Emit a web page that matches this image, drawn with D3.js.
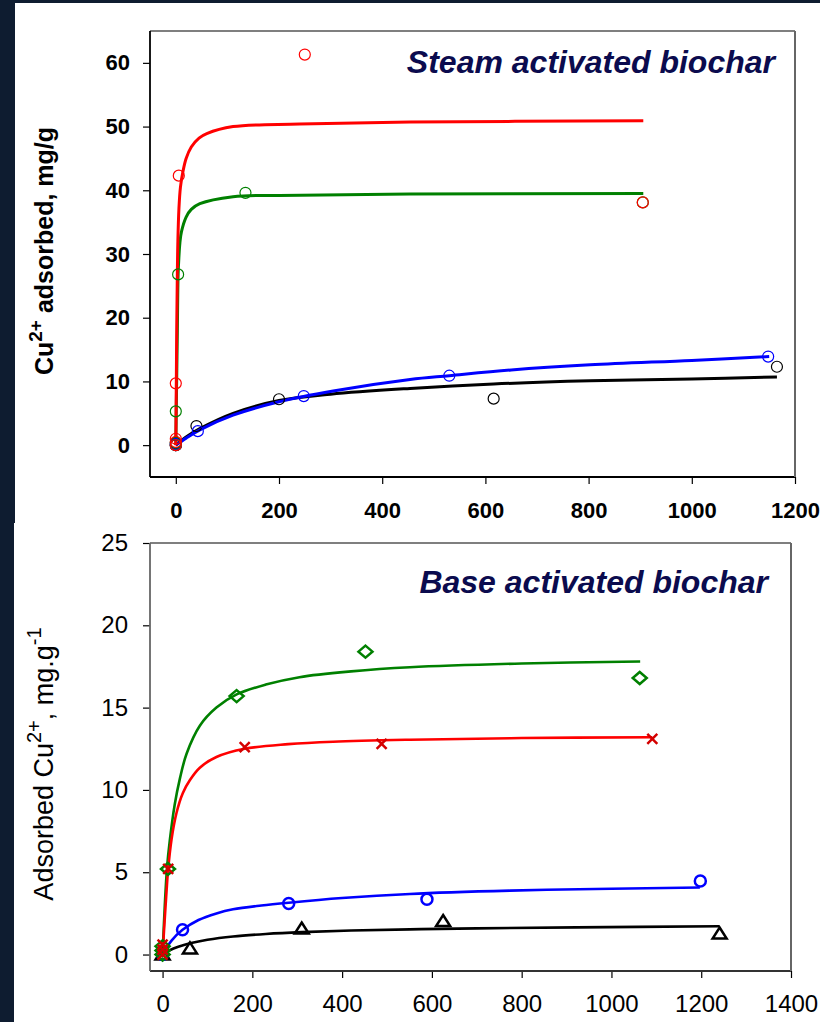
<!DOCTYPE html>
<html>
<head>
<meta charset="utf-8">
<script src="https://cdn.jsdelivr.net/npm/d3@7"></script>
<style>
  body { margin: 0; background: #0e1c30; }
  svg { display: block; }
</style>
</head>
<body>
<div id="chart"></div>
<script>
// ---- top panel: steam activated biochar (time, Cu adsorbed mg/g) ----
var steamXTicks = [0, 200, 400, 600, 800, 1000, 1200];
var steamYTicks = [0, 10, 20, 30, 40, 50, 60];

var steamRedPts = [[0,0],[0,0.5],[0,1],[0,9.7],[5.8,42.3],[250,61.3],[905,38.1]];
var steamGreenPts = [[0,0],[0,0.4],[0,5.3],[4.5,26.8],[135,39.6],[905,38.1]];
var steamBlackPts = [[0,0],[0,0.3],[40,3.0],[200,7.2],[616,7.3],[1165,12.3]];
var steamBluePts = [[0,0],[0,0.2],[42.7,2.2],[248,7.7],[530,10.9],[1148,13.9]];

// fitted curves
var steamRedFit = [[0,0],[1,10],[2,20],[3,27],[4,32],[6,37],[9,40.5],[14,43],[20,45],[30,46.8],[45,48.2],[60,48.9],[111,50],[240,50.4],[454,50.7],[906,50.9]];
var steamGreenFit = [[0,0],[1,6],[2,12],[3,18],[4.5,26.8],[6,29.5],[8,31.8],[11,33.5],[20,35.8],[30,37],[46.6,37.9],[111,39],[200,39.2],[454,39.4],[906,39.5]];
var steamBlackFit = [[0,0],[20,1.3],[46.6,2.6],[111,5.0],[200,7.0],[300,8.0],[454,8.9],[616,9.6],[803,10.1],[1000,10.4],[1165,10.7]];
var steamBlueFit = [[0,0],[20,1.1],[46.6,2.4],[111,4.7],[200,6.8],[305,8.5],[454,10.3],[530,10.9],[650,11.8],[803,12.6],[1000,13.3],[1150,13.9]];

// ---- bottom panel: base activated biochar ----
var baseXTicks = [0, 200, 400, 600, 800, 1000, 1200, 1400];
var baseYTicks = [0, 5, 10, 15, 20, 25];

var baseGreenPts = [[0,0],[0,0.25],[0,0.5],[12,5.2],[165,15.7],[452,18.4],[1063,16.8]];
var baseRedPts = [[0,0],[0,0.3],[0,0.6],[12.5,5.2],[183,12.6],[488,12.8],[1091,13.1]];
var baseBluePts = [[0,0],[44.5,1.5],[281,3.1],[589,3.36],[1198,4.47]];
var baseBlackPts = [[0,0],[61,0.37],[310,1.58],[625,2.04],[1241,1.28]];

var baseGreenFit = [[0,0],[5,3],[10,5.3],[16,6.9],[27,9.1],[38.7,10.7],[53.5,12.2],[83,13.9],[120,15.0],[165,15.8],[230,16.4],[305,16.85],[420,17.2],[551,17.45],[800,17.68],[1064,17.8]];
var baseRedFit = [[0,0],[4,1.8],[8,3.5],[12.5,5.2],[20,7.0],[31,8.6],[45,9.8],[61,10.6],[83,11.35],[120,12.0],[183,12.5],[280,12.78],[380,12.93],[551,13.05],[800,13.15],[1091,13.2]];
var baseBlueFit = [[0,0],[10,0.45],[20,0.85],[44.5,1.5],[80,2.1],[120,2.5],[157,2.75],[220,2.98],[281,3.15],[400,3.43],[551,3.68],[774,3.88],[1000,4.0],[1197,4.07]];
var baseBlackFit = [[0,0],[16,0.26],[35,0.47],[61,0.68],[100,0.9],[157,1.1],[230,1.25],[310,1.36],[420,1.46],[551,1.53],[700,1.59],[922,1.65],[1241,1.72]];

var FONT = "'Liberation Sans', Arial, Helvetica, sans-serif";
var NAVY = "#0b0b4e";

var svg = d3.select("#chart")
    .append("svg")
    .attr("width", 820)
    .attr("height", 1022);

// dark slide background and the two white panels
svg.append("rect").attr("width", 820).attr("height", 1022).attr("fill", "#0e1c30");
svg.append("rect").attr("x", 15).attr("y", 3).attr("width", 805).attr("height", 520).attr("fill", "#fff");
svg.append("rect").attr("x", 14).attr("y", 523).attr("width", 806).attr("height", 499).attr("fill", "#fff");

// helper: axes + frame for one panel
function drawFrame(x, y, xTicks, yTicks, o) {
    var x0 = x.range()[0], x1 = x.range()[1];
    var yb = y.range()[0], yt = y.range()[1];

    var gx = svg.append("g")
        .attr("transform", "translate(0," + yb + ")")
        .call(d3.axisBottom(x).tickValues(xTicks).tickFormat(d3.format("d")).tickSize(7).tickPadding(o.xPad));
    var gy = svg.append("g")
        .attr("transform", "translate(" + x0 + ",0)")
        .call(d3.axisLeft(y).tickValues(yTicks).tickFormat(d3.format("d")).tickSize(7).tickPadding(o.yPad));
    [gx, gy].forEach(function (g) {
        g.select(".domain").remove();
        g.attr("font-family", FONT).attr("font-size", o.fontSize).attr("font-weight", o.weight);
        g.selectAll("line").attr("stroke", "#000").attr("stroke-width", 1.2);
        g.selectAll("text").attr("fill", "#000");
    });

    // frame
    svg.append("line").attr("x1", x0).attr("x2", x1).attr("y1", yt).attr("y2", yt)
        .attr("stroke", "#000").attr("stroke-width", 1.2);
    svg.append("line").attr("x1", x0).attr("x2", x1).attr("y1", yb).attr("y2", yb)
        .attr("stroke", o.bottomColor).attr("stroke-width", 1.8);
    svg.append("line").attr("x1", x0).attr("x2", x0).attr("y1", yt).attr("y2", yb)
        .attr("stroke", o.leftColor).attr("stroke-width", 1.8);
    svg.append("line").attr("x1", x1).attr("x2", x1).attr("y1", yt).attr("y2", yb)
        .attr("stroke", "#666").attr("stroke-width", 2);
}

function drawCurve(x, y, data, color, w) {
    svg.append("path")
        .datum(data)
        .attr("fill", "none")
        .attr("stroke", color)
        .attr("stroke-width", w)
        .attr("stroke-linejoin", "round")
        .attr("d", d3.line()
            .x(function (d) { return x(d[0]); })
            .y(function (d) { return y(d[1]); })
            .curve(d3.curveCatmullRom.alpha(0.5)));
}

function drawMarks(x, y, data, shape, color, w) {
    svg.append("g")
        .selectAll("path")
        .data(data)
        .enter()
        .append("path")
        .attr("transform", function (d) { return "translate(" + x(d[0]) + "," + y(d[1]) + ")"; })
        .attr("d", shape)
        .attr("fill", "none")
        .attr("stroke", color)
        .attr("stroke-width", w);
}

// marker shapes
var circleTop = "M5.5,0A5.5,5.5 0 1,1 -5.5,0A5.5,5.5 0 1,1 5.5,0Z";
var circleBase = "M5.5,0A5.5,5.5 0 1,1 -5.5,0A5.5,5.5 0 1,1 5.5,0Z";
var diamond = "M0,-6L7,0L0,6L-7,0Z";
var triangle = "M0,-6L7,5L-7,5Z";
var cross = "M-5,-5L5,5M-5,5L5,-5";

// ================= top panel =================
var xTop = d3.scaleLinear().domain([-50, 1200]).range([150, 795]);
var yTop = d3.scaleLinear().domain([-5, 65]).range([477, 31]);

drawFrame(xTop, yTop, steamXTicks, steamYTicks,
    { xPad: 18, yPad: 13, fontSize: 22, weight: "bold", bottomColor: "#000", leftColor: "#000" });

drawCurve(xTop, yTop, steamBlackFit, "#000", 3);
drawCurve(xTop, yTop, steamBlueFit, "#0000ff", 3);
drawCurve(xTop, yTop, steamGreenFit, "#008000", 3);
drawCurve(xTop, yTop, steamRedFit, "#ff0000", 3);

drawMarks(xTop, yTop, steamBlackPts, circleTop, "#000", 1.2);
drawMarks(xTop, yTop, steamBluePts, circleTop, "#0000ff", 1.2);
drawMarks(xTop, yTop, steamGreenPts, circleTop, "#008000", 1.2);
drawMarks(xTop, yTop, steamRedPts, circleTop, "#ff0000", 1.2);

svg.append("text")
    .attr("x", 775).attr("y", 73)
    .attr("text-anchor", "end")
    .attr("font-family", FONT).attr("font-size", 32)
    .attr("font-weight", "bold").attr("font-style", "italic")
    .attr("fill", NAVY)
    .text("Steam activated biochar");

var tTop = svg.append("text")
    .attr("transform", "translate(53,251) rotate(-90)")
    .attr("text-anchor", "middle")
    .attr("font-family", FONT).attr("font-size", 25).attr("font-weight", "bold")
    .attr("fill", "#000");
tTop.append("tspan").text("Cu");
tTop.append("tspan").attr("font-size", 19).attr("dy", -11).text("2+");
tTop.append("tspan").attr("dy", 11).text(" adsorbed, mg/g");

// ================= bottom panel =================
var xBase = d3.scaleLinear().domain([-28, 1400]).range([150, 791]);
var yBase = d3.scaleLinear().domain([-1, 25]).range([971, 543]);

drawFrame(xBase, yBase, baseXTicks, baseYTicks,
    { xPad: 17, yPad: 15, fontSize: 24, weight: "normal", bottomColor: "#333", leftColor: "#666" });

drawCurve(xBase, yBase, baseBlackFit, "#000", 2.6);
drawCurve(xBase, yBase, baseBlueFit, "#0000ff", 2.6);
drawCurve(xBase, yBase, baseGreenFit, "#008000", 2.6);
drawCurve(xBase, yBase, baseRedFit, "#ff0000", 2.6);

drawMarks(xBase, yBase, baseBlackPts, triangle, "#000", 2.5);
drawMarks(xBase, yBase, baseBluePts, circleBase, "#0000ff", 2.5);
drawMarks(xBase, yBase, baseGreenPts, diamond, "#008000", 2.5);
drawMarks(xBase, yBase, baseRedPts, cross, "#d40000", 2.5);

svg.append("text")
    .attr("x", 768).attr("y", 593)
    .attr("text-anchor", "end")
    .attr("font-family", FONT).attr("font-size", 32)
    .attr("font-weight", "bold").attr("font-style", "italic")
    .attr("fill", NAVY)
    .text("Base activated biochar");

var tBase = svg.append("text")
    .attr("transform", "translate(53,764) rotate(-90)")
    .attr("text-anchor", "middle")
    .attr("font-family", FONT).attr("font-size", 27)
    .attr("fill", "#000");
tBase.append("tspan").text("Adsorbed Cu");
tBase.append("tspan").attr("font-size", 20).attr("dy", -12).text("2+");
tBase.append("tspan").attr("dy", 12).text(", mg.g");
tBase.append("tspan").attr("font-size", 20).attr("dy", -12).text("-1");
</script>
</body>
</html>
